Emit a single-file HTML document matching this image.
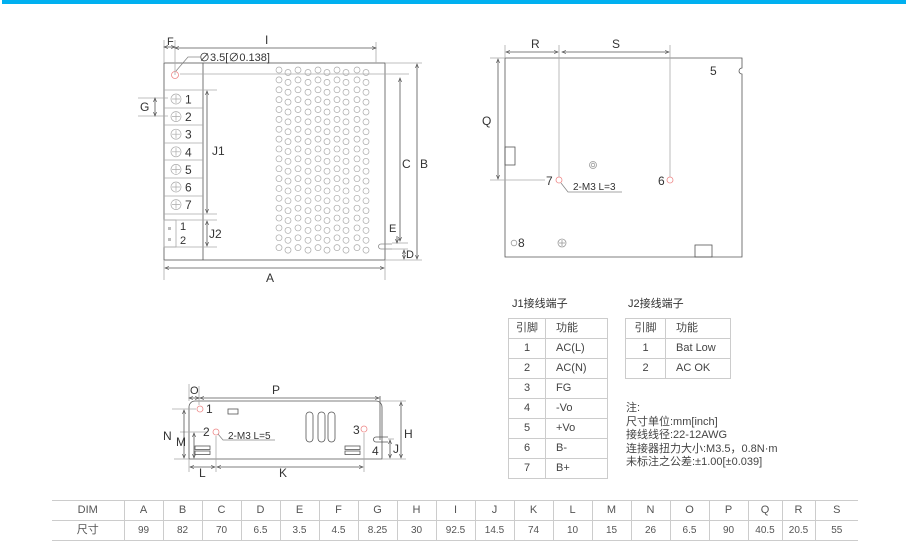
<!DOCTYPE html>
<html><head><meta charset="utf-8"><style>
body{margin:0;background:#fff;width:906px;height:551px;overflow:hidden;font-family:"Liberation Sans","Noto Sans CJK SC",sans-serif}
svg{position:absolute;left:0;top:0}
text{font-family:"Liberation Sans","Noto Sans CJK SC",sans-serif;fill:#333}
table{table-layout:fixed}
td{padding:0;border:1px solid #ccc;height:19px;line-height:19px}
.t td:first-child{text-align:center}
.t td+td{padding-left:10px}
</style></head><body>
<svg width="906" height="551" viewBox="0 0 906 551">
<rect x="2" y="0" width="904" height="4" fill="#00b0f0"/>
<defs>
<marker id="a" markerWidth="6" markerHeight="6" refX="5" refY="3" orient="auto-start-reverse"><path d="M0,1 L5,3 L0,5" fill="none" stroke="#555" stroke-width="0.8"/></marker>
</defs>
<g stroke="#555" stroke-width="0.8" fill="none">
<rect x="164" y="63" width="221" height="197"/>
<line x1="203" y1="63" x2="203" y2="260"/>
<line x1="164" y1="90" x2="217" y2="90" stroke="#aaa"/>
<line x1="164" y1="108" x2="203" y2="108" stroke="#aaa"/>
<line x1="164" y1="125" x2="203" y2="125" stroke="#aaa"/>
<line x1="164" y1="143" x2="203" y2="143" stroke="#aaa"/>
<line x1="164" y1="160" x2="203" y2="160" stroke="#aaa"/>
<line x1="164" y1="178" x2="203" y2="178" stroke="#aaa"/>
<line x1="164" y1="196" x2="203" y2="196" stroke="#aaa"/>
<line x1="164" y1="214" x2="217" y2="214" stroke="#aaa"/>
<line x1="164" y1="220" x2="217" y2="220" stroke="#aaa"/>
<line x1="164" y1="247" x2="217" y2="247" stroke="#aaa"/>
<rect x="164" y="220" width="12" height="27" stroke="#aaa"/>
<line x1="180" y1="74" x2="409" y2="74" stroke="#aaa"/>
<circle cx="175" cy="75" r="3.5" stroke="#e88"/>
<path d="M176,71 L188,57 L200,57" stroke="#888"/>
<line x1="164" y1="40" x2="164" y2="63" stroke="#aaa"/>
<line x1="175" y1="40" x2="175" y2="75" stroke="#aaa"/>
<line x1="164" y1="47" x2="175" y2="47" marker-start="url(#a)" marker-end="url(#a)"/>
<line x1="376" y1="42" x2="376" y2="63" stroke="#aaa"/>
<line x1="175" y1="48" x2="376" y2="48" marker-start="url(#a)" marker-end="url(#a)"/>
<line x1="138" y1="98" x2="168" y2="98" stroke="#aaa"/>
<line x1="138" y1="116" x2="168" y2="116" stroke="#aaa"/>
<line x1="155" y1="98" x2="155" y2="116" marker-start="url(#a)" marker-end="url(#a)"/>
<line x1="207" y1="91" x2="207" y2="213" marker-start="url(#a)" marker-end="url(#a)"/>
<line x1="207" y1="221" x2="207" y2="246" marker-start="url(#a)" marker-end="url(#a)"/>
<line x1="385" y1="63" x2="422" y2="63" stroke="#aaa"/>
<line x1="385" y1="260" x2="422" y2="260" stroke="#aaa"/>
<line x1="417" y1="64" x2="417" y2="259" marker-start="url(#a)" marker-end="url(#a)"/>
<line x1="400" y1="78" x2="400" y2="241" marker-start="url(#a)" marker-end="url(#a)"/>
<path d="M392,244 L381,244 A2.5,2.5 0 0 0 381,249 L392,249" stroke="#888"/>
<line x1="392" y1="243" x2="408" y2="243" stroke="#aaa"/>
<line x1="392" y1="249" x2="408" y2="249" stroke="#aaa"/>
<line x1="397" y1="236" x2="397" y2="243" marker-end="url(#a)"/>
<line x1="404" y1="250" x2="404" y2="259" marker-start="url(#a)" marker-end="url(#a)"/>
<line x1="164" y1="260" x2="164" y2="280" stroke="#aaa"/>
<line x1="385" y1="260" x2="385" y2="280" stroke="#aaa"/>
<line x1="165" y1="268" x2="384" y2="268" marker-start="url(#a)" marker-end="url(#a)"/>
<path d="M505,58 L742,58 L742,68 A3,3 0 0 0 742,74 L742,257 L505,257 Z"/>
<rect x="505" y="147" width="10" height="18"/>
<rect x="695" y="245" width="17" height="12"/>
<line x1="505" y1="45" x2="505" y2="58" stroke="#aaa"/>
<line x1="559" y1="45" x2="559" y2="177" stroke="#aaa"/>
<line x1="670" y1="45" x2="670" y2="177" stroke="#aaa"/>
<line x1="506" y1="52" x2="558" y2="52" marker-start="url(#a)" marker-end="url(#a)"/>
<line x1="562" y1="52" x2="669" y2="52" marker-start="url(#a)" marker-end="url(#a)"/>
<line x1="490" y1="58" x2="505" y2="58" stroke="#aaa"/>
<line x1="490" y1="180" x2="545" y2="180" stroke="#aaa"/>
<line x1="498" y1="59" x2="498" y2="179" marker-start="url(#a)" marker-end="url(#a)"/>
<circle cx="559" cy="180" r="3" stroke="#e88"/>
<circle cx="670" cy="180" r="3" stroke="#e88"/>
<path d="M561,183 L568,192 L622,192" stroke="#888"/>
<circle cx="593" cy="165" r="3.5" stroke="#999"/><circle cx="593" cy="165" r="1.8" stroke="#999"/>
<circle cx="514" cy="243" r="2.8" stroke="#999"/>
<circle cx="562" cy="243" r="4" stroke="#999"/><path d="M562,240 V246 M559,243 H565" stroke="#999"/>
<path d="M189,459 L189,407 A6,6 0 0 1 195,401 L376,401 A6,6 0 0 1 382,407 L382,459 Z"/>
<line x1="189" y1="384" x2="189" y2="401" stroke="#aaa"/>
<line x1="380" y1="396" x2="380" y2="440"/>
<line x1="199" y1="386" x2="199" y2="405" stroke="#aaa"/>
<line x1="189" y1="398" x2="199" y2="398" marker-start="url(#a)" marker-end="url(#a)"/>
<line x1="200" y1="398" x2="379" y2="398" marker-start="url(#a)" marker-end="url(#a)"/>
<circle cx="200" cy="409" r="3" stroke="#e88"/>
<circle cx="216" cy="432" r="3" stroke="#e88"/>
<circle cx="364" cy="429" r="3" stroke="#e88"/>
<path d="M218,434 L223,440 L275,440" stroke="#888"/>
<rect x="228" y="409" width="10" height="5"/>
<rect x="306" y="412" width="7" height="30" rx="3.5"/>
<rect x="318" y="412" width="7" height="30" rx="3.5"/>
<rect x="328" y="412" width="7" height="30" rx="3.5"/>
<rect x="195" y="446" width="15" height="3.5"/><rect x="195" y="451" width="15" height="3.5"/>
<rect x="345" y="446" width="15" height="3.5"/><rect x="345" y="451" width="15" height="3.5"/>
<path d="M388,437 L376,437 A2.5,2.5 0 0 0 376,442 L388,442"/>
<line x1="172" y1="409" x2="196" y2="409" stroke="#aaa"/>
<line x1="180" y1="432" x2="207" y2="432" stroke="#aaa"/>
<line x1="174" y1="459" x2="189" y2="459" stroke="#aaa"/>
<line x1="184" y1="410" x2="184" y2="458" marker-start="url(#a)" marker-end="url(#a)"/>
<line x1="194" y1="433" x2="194" y2="458" marker-start="url(#a)" marker-end="url(#a)"/>
<line x1="189" y1="459" x2="189" y2="472" stroke="#aaa"/>
<line x1="216" y1="436" x2="216" y2="472" stroke="#aaa"/>
<line x1="364" y1="433" x2="364" y2="472" stroke="#aaa"/>
<line x1="190" y1="467" x2="215" y2="467" marker-start="url(#a)" marker-end="url(#a)"/>
<line x1="217" y1="467" x2="363" y2="467" marker-start="url(#a)" marker-end="url(#a)"/>
<line x1="380" y1="401" x2="406" y2="401" stroke="#aaa"/>
<line x1="382" y1="459" x2="406" y2="459" stroke="#aaa"/>
<line x1="388" y1="439" x2="394" y2="439" stroke="#aaa"/>
<line x1="401" y1="402" x2="401" y2="458" marker-start="url(#a)" marker-end="url(#a)"/>
<line x1="390" y1="440" x2="390" y2="458" marker-start="url(#a)" marker-end="url(#a)"/>
</g>
<g id="v" stroke="#aaa" stroke-width="0.7" fill="none"></g>
<g stroke="#aaa" stroke-width="0.7" fill="none"><g id="sc"></g></g>
<g font-size="12">
<text x="167" y="45" font-size="11">F</text>
<text x="265" y="44">I</text>
<text x="199" y="61" font-size="11">∅3.5[∅0.138]</text>
<text x="140" y="111">G</text>
<text x="212" y="155">J1</text>
<text x="209" y="238">J2</text>
<text x="402" y="168">C</text>
<text x="420" y="168">B</text>
<text x="389" y="232" font-size="11">E</text>
<text x="406" y="258" font-size="11">D</text>
<text x="266" y="282">A</text>
<text x="531" y="48">R</text>
<text x="612" y="48">S</text>
<text x="482" y="125">Q</text>
<text x="710" y="75">5</text>
<text x="546" y="185">7</text>
<text x="658" y="185">6</text>
<text x="573" y="190" font-size="10">2-M3 L=3</text>
<text x="518" y="247">8</text>
<text x="190" y="394" font-size="11">O</text>
<text x="272" y="394">P</text>
<text x="206" y="413">1</text>
<text x="203" y="436">2</text>
<text x="228" y="439" font-size="10">2-M3 L=5</text>
<text x="353" y="434">3</text>
<text x="372" y="455">4</text>
<text x="163" y="440">N</text>
<text x="176" y="446">M</text>
<text x="199" y="477">L</text>
<text x="279" y="477">K</text>
<text x="404" y="438">H</text>
<text x="393" y="453">J</text>
</g>
<g font-size="11">
<text x="180" y="230">1</text><text x="180" y="244">2</text>
<rect x="168" y="227" width="3" height="3" fill="#bbb"/><rect x="168" y="238" width="3" height="3" fill="#bbb"/>
</g>
<script>
var ns="http://www.w3.org/2000/svg",v=document.getElementById('v');
var xs=[279,288,298,308,318,327,337,346,357,366];
for(var c=0;c<10;c++){for(var r=0;r<19;r++){var e=document.createElementNS(ns,'circle');e.setAttribute('cx',xs[c]);e.setAttribute('cy',70+r*9.87+(c%2?2.5:0));e.setAttribute('r',3);v.appendChild(e);}}
var s=document.getElementById('sc');
for(var i=0;i<7;i++){var y=99+i*17.6;var c2=document.createElementNS(ns,'circle');c2.setAttribute('cx',176);c2.setAttribute('cy',y);c2.setAttribute('r',5);s.appendChild(c2);
var p=document.createElementNS(ns,'path');p.setAttribute('d','M176,'+(y-4)+' V'+(y+4)+' M172,'+y+' H180');s.appendChild(p);
var t=document.createElementNS(ns,'text');t.setAttribute('x',185);t.setAttribute('y',y+4.5);t.setAttribute('font-size','12');t.setAttribute('stroke','none');t.setAttribute('fill','#333');t.textContent=i+1;s.appendChild(t);}
</script>
</svg>
<div style="position:absolute;left:512px;top:295px;font-size:11px;color:#333">J1接线端子</div>
<div style="position:absolute;left:628px;top:295px;font-size:11px;color:#333">J2接线端子</div>
<table class="t" style="position:absolute;left:508px;top:318px;width:99px;border-collapse:collapse;font-size:11px;color:#444">
<colgroup><col style="width:37px"><col style="width:62px"></colgroup>
<tr><td>引脚</td><td>功能</td></tr>
<tr><td>1</td><td>AC(L)</td></tr>
<tr><td>2</td><td>AC(N)</td></tr>
<tr><td>3</td><td>FG</td></tr>
<tr><td>4</td><td>-Vo</td></tr>
<tr><td>5</td><td>+Vo</td></tr>
<tr><td>6</td><td>B-</td></tr>
<tr><td>7</td><td>B+</td></tr>
</table>
<table class="t" style="position:absolute;left:625px;top:318px;width:105px;border-collapse:collapse;font-size:11px;color:#444">
<colgroup><col style="width:40px"><col style="width:65px"></colgroup>
<tr><td>引脚</td><td>功能</td></tr>
<tr><td>1</td><td>Bat Low</td></tr>
<tr><td>2</td><td>AC OK</td></tr>
</table>
<div style="position:absolute;left:626px;top:402px;font-size:11px;line-height:13.5px;color:#444">注:<br>尺寸单位:mm[inch]<br>接线线径:22-12AWG<br>连接器扭力大小:M3.5，0.8N·m<br>未标注之公差:±1.00[±0.039]</div>
<table style="position:absolute;left:52px;top:500px;width:806px;border-collapse:collapse;font-size:11px;color:#555;text-align:center">
<colgroup><col style="width:72px"><col span="16" style="width:39px"><col style="width:34px"><col style="width:33px"><col style="width:43px"></colgroup>
<tr><td style="border-left:none">DIM</td><td>A</td><td>B</td><td>C</td><td>D</td><td>E</td><td>F</td><td>G</td><td>H</td><td>I</td><td>J</td><td>K</td><td>L</td><td>M</td><td>N</td><td>O</td><td>P</td><td>Q</td><td>R</td><td style="border-right:none">S</td></tr>
<tr style="font-size:10px"><td style="border-left:none;font-size:11px">尺寸</td><td>99</td><td>82</td><td>70</td><td>6.5</td><td>3.5</td><td>4.5</td><td>8.25</td><td>30</td><td>92.5</td><td>14.5</td><td>74</td><td>10</td><td>15</td><td>26</td><td>6.5</td><td>90</td><td>40.5</td><td>20.5</td><td style="border-right:none">55</td></tr>
</table>
</body></html>
